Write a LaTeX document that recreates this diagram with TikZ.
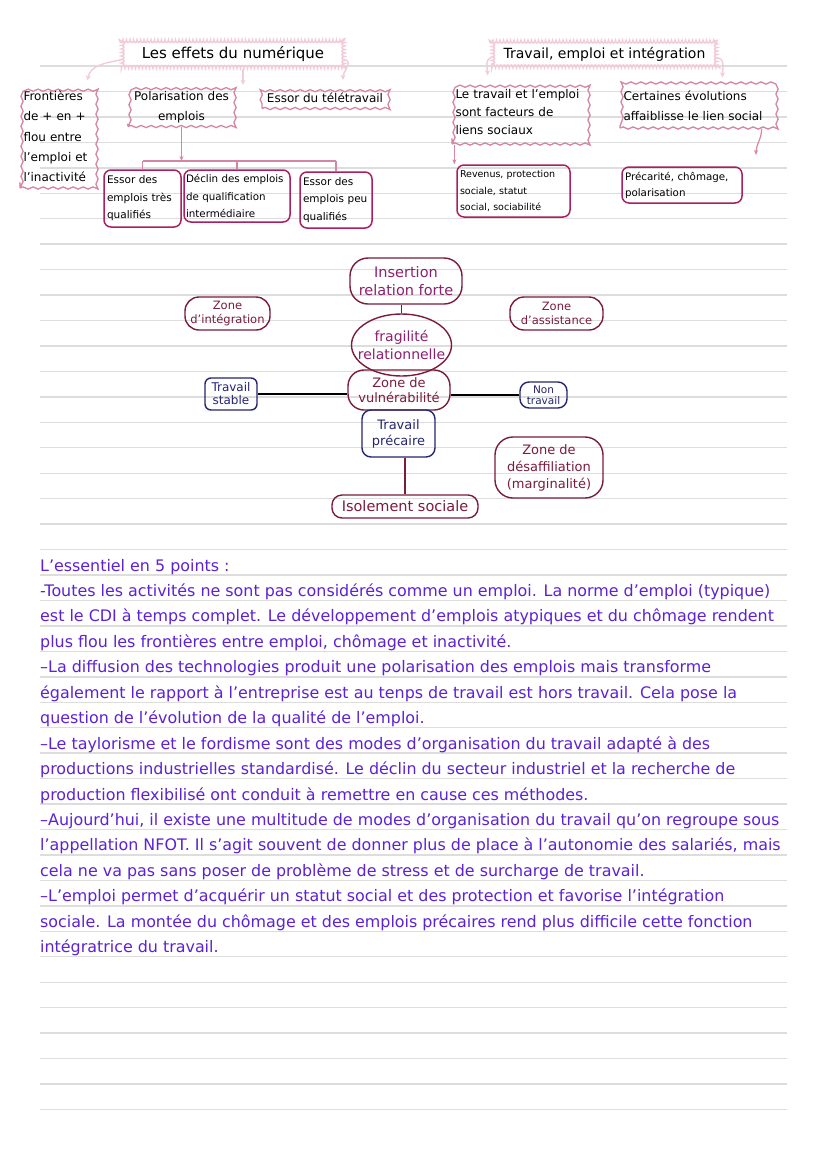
\documentclass[tikz,border=0pt]{standalone}
\usepackage{fontspec}
\setmainfont{DejaVu Sans}
\usetikzlibrary{positioning}
\usetikzlibrary{decorations.pathmorphing}
\usetikzlibrary{arrows.meta}
\usetikzlibrary{shapes.geometric}

\definecolor{ruleg}{RGB}{221,221,221}
\definecolor{pinkline}{RGB}{214,134,162}
\definecolor{pinklight}{RGB}{242,204,215}
\definecolor{magbox}{RGB}{168,32,96}
\definecolor{maroon}{RGB}{122,28,58}
\definecolor{plum}{RGB}{140,32,110}
\definecolor{navyink}{RGB}{36,38,112}
\definecolor{violetink}{RGB}{92,34,212}

\tikzset{
  ruleline/.style = {draw = ruleg, line width = 1.4pt},
  pinkwave/.style = {draw = pinkline, line width = 1.3pt, decorate,
    decoration = {snake, amplitude = 1.1pt, segment length = 10pt},
    inner sep = 3pt},
  titlecloud/.style = {draw = pinklight, line width = 1.6pt, decorate,
    decoration = {bumps, segment length = 7pt}, inner sep = 2pt},
  magbox/.style = {draw = magbox, line width = 1.5pt, rounded corners = 7pt,
    inner sep = 3pt, align = left},
  cloudarrow/.style = {draw = pinklight, line width = 1.4pt, -{Stealth[length = 5pt, width = 5pt]}},
  pinkarrow/.style = {draw = pinkline, line width = 1.2pt, -{Stealth[length = 5pt, width = 4pt]}},
  zonebubble/.style = {draw = maroon, line width = 1.4pt, rounded corners = 12pt,
    text = maroon, align = center, inner sep = 2pt},
  inkbox/.style = {draw = navyink, line width = 1.4pt, rounded corners = 6pt,
    text = navyink, align = center, inner sep = 2pt},
}

\begin{document}
\begin{tikzpicture}[x = 1pt, y = -1pt]
\useasboundingbox (0, 0) rectangle (828, 1171);
\fill[white] (0, 0) rectangle (828, 1171);

% ruled paper
\foreach \k in {0, ..., 41}
  \draw[ruleline] (40, {66 + 25.45*\k}) -- (787, {66 + 25.45*\k});

% Les effets du numérique
\node[titlecloud, minimum width = 223pt, minimum height = 28pt, font = \fontsize{15}{18}\selectfont] (numerique) at (233, 54) {Les effets du numérique};

\node[pinkwave, minimum width = 75pt, minimum height = 103pt, text width = 68pt, align = left, font = \fontsize{12}{20.3}\selectfont] (frontieres) at (57.5, 136.5) {Frontières\\de + en +\\flou entre\\l’emploi et\\l’inactivité};
\node[pinkwave, minimum width = 107pt, minimum height = 39pt, align = center, font = \fontsize{12}{20}\selectfont] (polar) at (181.5, 107) {Polarisation des\\emplois};
\node[pinkwave, minimum width = 126pt, minimum height = 22pt, font = \fontsize{12}{14}\selectfont] (tele) at (325, 97.5) {Essor du télétravail};

\draw[cloudarrow] ([yshift = -6pt]numerique.west) to[out = 190, in = 80] ([xshift = 30pt, yshift = 4pt]frontieres.north);
\draw[cloudarrow] ([yshift = -6pt]numerique.east) to[out = -10, in = 90] ([xshift = 18pt, yshift = 6pt]tele.north);
\draw[cloudarrow] ([xshift = 10pt]numerique.south) -- ([xshift = 10pt, yshift = 2pt]numerique.south |- polar.north);

\node[magbox, minimum width = 77pt, minimum height = 57pt, text width = 71pt, font = \fontsize{10.5}{17.5}\selectfont] (tres) at (142.5, 198.5) {Essor des\\emplois très\\qualifiés};
\node[magbox, inner sep = 2pt, minimum width = 106pt, minimum height = 52pt, text width = 102pt, font = \fontsize{10.3}{17.5}\selectfont] (declin) at (237, 196) {Déclin des emplois\\de qualification\\intermédiaire};
\node[magbox, minimum width = 72pt, minimum height = 56pt, text width = 66pt, font = \fontsize{10.5}{17.5}\selectfont] (peu) at (336, 200) {Essor des\\emplois peu\\qualifiés};

\coordinate (fork) at (181.5, 161);
\draw[pinkarrow] (polar.south) -- (fork);
\draw[pinkline, line width = 1.2pt] (tres.north |- fork) -- (peu.north |- fork);
\foreach \n in {tres, declin, peu}
  \draw[pinkline, line width = 1.2pt] (\n.north |- fork) -- (\n.north);

% Travail, emploi et intégration
\node[titlecloud, minimum width = 225pt, minimum height = 27pt, font = \fontsize{14}{17}\selectfont] (integ) at (604.5, 54) {Travail, emploi et intégration};

\node[pinkwave, minimum width = 135pt, minimum height = 63pt, text width = 128pt, align = left, font = \fontsize{12}{18}\selectfont] (liens) at (519.5, 112.5) {Le travail et l’emploi\\sont facteurs de\\liens sociaux};
\node[pinkwave, minimum width = 155pt, minimum height = 44pt, text width = 148pt, align = left, font = \fontsize{12}{20}\selectfont] (certaines) at (697.5, 106) {Certaines évolutions\\affaiblisse le lien social};

\draw[cloudarrow] ([yshift = -4pt]integ.west) to[out = 190, in = 90] ([xshift = -32pt, yshift = 5pt]liens.north);
\draw[cloudarrow] ([yshift = -4pt]integ.east) to[out = -10, in = 90] ([xshift = 25pt, yshift = 6pt]certaines.north);

\node[magbox, minimum width = 113pt, minimum height = 52pt, text width = 107pt, font = \fontsize{9.5}{16.5}\selectfont] (revenus) at (513.5, 191) {Revenus, protection\\sociale, statut\\social, sociabilité};
\node[magbox, minimum width = 120pt, minimum height = 36pt, text width = 114pt, font = \fontsize{10.3}{16}\selectfont] (precarite) at (682, 185) {Précarité, chômage,\\polarisation};

\coordinate (certend) at (756, 155);
\draw[pinkarrow] ([xshift = 3pt]liens.south west) -- ([xshift = 3pt]liens.south west |- revenus.north);
\draw[pinkarrow] ([xshift = -14pt]certaines.south east) to[out = -90, in = 90] (certend);

% zones d'intégration / vulnérabilité
\node[zonebubble, text = plum, rounded corners = 18pt, minimum width = 112pt, minimum height = 46pt, font = \fontsize{14.5}{18}\selectfont] (insertion) at (406, 281) {Insertion\\relation forte};
\node[zonebubble, text = plum, ellipse, inner xsep = -12pt, inner ysep = -4pt, minimum width = 100pt, minimum height = 62pt, font = \fontsize{14}{18}\selectfont] (fragilite) at (401.5, 345) {fragilité\\relationnelle};
\node[zonebubble, rounded corners = 16pt, minimum width = 102pt, minimum height = 40pt, font = \fontsize{13}{15}\selectfont] (vulnerabilite) at (399, 390) {Zone de\\vulnérabilité};
\node[zonebubble, rounded corners = 14pt, minimum width = 85pt, minimum height = 33pt, font = \fontsize{11.5}{14}\selectfont] (zintegration) at (227.5, 313.5) {Zone\\d’intégration};
\node[zonebubble, rounded corners = 14pt, minimum width = 93pt, minimum height = 33pt, font = \fontsize{11.5}{14}\selectfont] (zassistance) at (556.5, 313.5) {Zone\\d’assistance};
\node[zonebubble, rounded corners = 18pt, minimum width = 108pt, minimum height = 61pt, font = \fontsize{13}{17}\selectfont] (desaffiliation) at (549, 467.5) {Zone de\\désaffiliation\\(marginalité)};
\node[zonebubble, rounded corners = 10pt, minimum width = 146pt, minimum height = 23pt, font = \fontsize{14.5}{16}\selectfont] (isolement) at (405, 506.5) {Isolement sociale};

\node[inkbox, minimum width = 52pt, minimum height = 32pt, font = \fontsize{12}{13}\selectfont] (stable) at (231, 394) {Travail\\stable};
\node[inkbox, rounded corners = 9pt, minimum width = 47pt, minimum height = 26pt, font = \fontsize{10.5}{11}\selectfont] (nontravail) at (543.5, 395) {Non\\travail};
\node[inkbox, rounded corners = 9pt, minimum width = 73pt, minimum height = 47pt, font = \fontsize{13}{16}\selectfont] (precaire) at (398.5, 433.5) {Travail\\précaire};

\draw[maroon, line width = 1.3pt] (fragilite.north) -- (fragilite.north |- insertion.south);
\draw[black, line width = 1.4pt] (stable.east) -- (stable.east -| vulnerabilite.west);
\draw[black, line width = 1.4pt] (nontravail.west) -- (nontravail.west -| vulnerabilite.east);
\draw[maroon, line width = 1.3pt] (isolement.north) -- (isolement.north |- precaire.south);

% l'essentiel en 5 points
\foreach \txt [count = \k] in {
  {L’essentiel en 5 points :},
  {-Toutes les activités ne sont pas considérés comme un emploi. La norme d’emploi (typique)},
  {est le CDI à temps complet. Le développement d’emplois atypiques et du chômage rendent},
  {plus flou les frontières entre emploi, chômage et inactivité.},
  {–La diffusion des technologies produit une polarisation des emplois mais transforme},
  {également le rapport à l’entreprise est au tenps de travail est hors travail. Cela pose la},
  {question de l’évolution de la qualité de l’emploi.},
  {–Le taylorisme et le fordisme sont des modes d’organisation du travail adapté à des},
  {productions industrielles standardisé. Le déclin du secteur industriel et la recherche de},
  {production flexibilisé ont conduit à remettre en cause ces méthodes.},
  {–Aujourd’hui, il existe une multitude de modes d’organisation du travail qu’on regroupe sous},
  {l’appellation NFOT. Il s’agit souvent de donner plus de place à l’autonomie des salariés, mais},
  {cela ne va pas sans poser de problème de stress et de surcharge de travail.},
  {–L’emploi permet d’acquérir un statut social et des protection et favorise l’intégration},
  {sociale. La montée du chômage et des emplois précaires rend plus difficile cette fonction},
  {intégratrice du travail.}}
  \node[anchor = base west, inner sep = 0pt, text = violetink, font = \fontsize{15.9}{18}\selectfont] (p\k) at (40, {571 + 25.45*(\k - 1)}) {\txt};

\end{tikzpicture}
\end{document}
